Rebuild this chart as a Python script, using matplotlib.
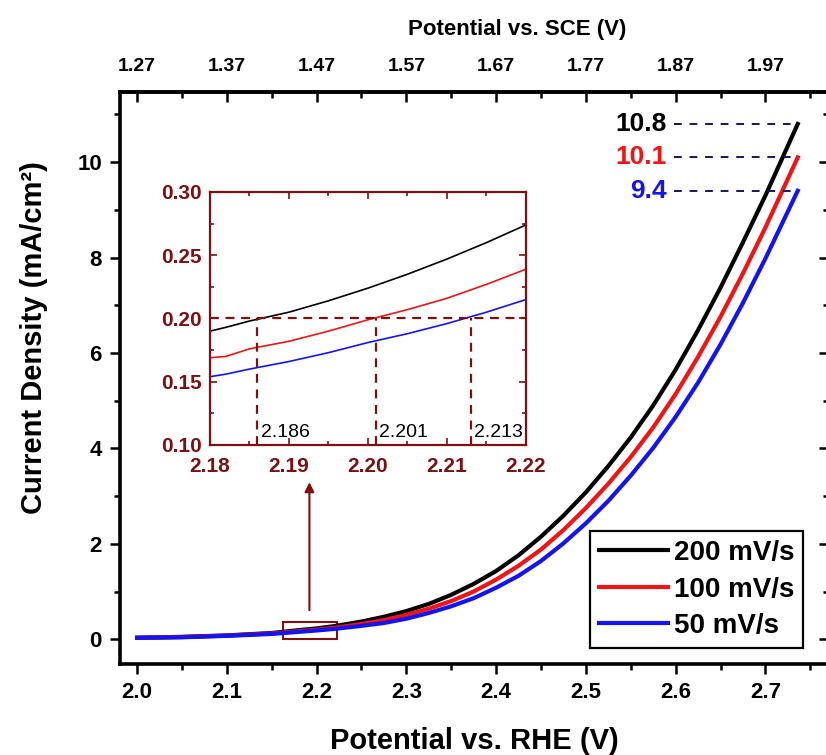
import matplotlib
matplotlib.use("Agg")
import matplotlib.pyplot as plt
from matplotlib.patches import Rectangle
from matplotlib.ticker import MultipleLocator, FixedLocator

plt.rcParams['font.family'] = ['Liberation Sans', 'DejaVu Sans']
plt.rcParams['font.weight'] = 'bold'

# LSV curves, potential vs RHE (V) and current density (mA/cm2)
potential = [2.00, 2.05, 2.10, 2.15, 2.18, 2.20, 2.22, 2.25, 2.275, 2.30, 2.325,
             2.35, 2.375, 2.40, 2.425, 2.45, 2.475, 2.50, 2.525, 2.55, 2.575,
             2.60, 2.625, 2.65, 2.675, 2.70, 2.736]
j_200 = [0.03, 0.05, 0.08, 0.13, 0.19, 0.226, 0.275, 0.37, 0.47, 0.59, 0.74,
         0.93, 1.16, 1.43, 1.76, 2.15, 2.59, 3.08, 3.63, 4.23, 4.90,
         5.65, 6.48, 7.37, 8.32, 9.30, 10.8]
j_100 = [0.03, 0.045, 0.075, 0.12, 0.169, 0.201, 0.24, 0.32, 0.40, 0.51, 0.64,
         0.80, 1.00, 1.25, 1.54, 1.88, 2.29, 2.75, 3.26, 3.82, 4.44,
         5.14, 5.92, 6.76, 7.67, 8.63, 10.1]
j_50 = [0.03, 0.04, 0.07, 0.11, 0.154, 0.183, 0.216, 0.28, 0.34, 0.43, 0.55,
        0.69, 0.86, 1.08, 1.33, 1.64, 2.01, 2.43, 2.90, 3.43, 4.01,
        4.66, 5.38, 6.18, 7.05, 7.98, 9.4]

# zoomed region near onset
zoom_potential = [2.180, 2.182, 2.185, 2.190, 2.195, 2.200, 2.205, 2.210, 2.215, 2.220]
zoom_200 = [0.190, 0.193, 0.198, 0.205, 0.214, 0.224, 0.235, 0.247, 0.260, 0.274]
zoom_100 = [0.169, 0.170, 0.176, 0.182, 0.190, 0.199, 0.207, 0.216, 0.227, 0.239]
zoom_50 = [0.154, 0.156, 0.160, 0.166, 0.173, 0.181, 0.188, 0.196, 0.205, 0.215]

onset_potential = [2.186, 2.201, 2.213]
onset_current = 0.2
end_current = [10.8, 10.1, 9.4]

labels = ['200 mV/s', '100 mV/s', '50 mV/s']
colors = ['black', '#f01414', '#1414f0']
dark_red = '#7d1010'
navy = '#14146e'
sce_offset = 0.73

fig = plt.figure(figsize=(8.26, 7.55), dpi=100)
ax = fig.add_axes([0.1453, 0.1205, 0.8585, 0.7576])

for y, lab, c in zip([j_200, j_100, j_50], labels, colors):
    ax.plot(potential, y, color=c, lw=3, label=lab)

ax.set_xlim(1.981, 2.771)
ax.set_ylim(-0.52, 11.47)
ax.xaxis.set_major_locator(FixedLocator([2.0, 2.1, 2.2, 2.3, 2.4, 2.5, 2.6, 2.7]))
ax.xaxis.set_minor_locator(MultipleLocator(0.05))
ax.yaxis.set_major_locator(MultipleLocator(2))
ax.yaxis.set_minor_locator(MultipleLocator(1))
ax.tick_params(which='major', direction='out', length=7, width=1.8, labelsize=16, pad=6)
ax.tick_params(which='minor', direction='out', length=4, width=1.8)
ax.set_xticklabels(['2.0', '2.1', '2.2', '2.3', '2.4', '2.5', '2.6', '2.7'])
for s in ax.spines.values():
    s.set_linewidth(2.6)

ax.set_xlabel('Potential vs. RHE (V)', fontsize=21, fontweight='bold', labelpad=17)
ax.set_ylabel('Current Density (mA/cm²)', fontsize=21, fontweight='bold')
ax.yaxis.set_label_coords(-0.102, 0.57)

# SCE scale on top
top = ax.secondary_xaxis('top', functions=(lambda x: x - sce_offset, lambda x: x + sce_offset))
top.xaxis.set_major_locator(FixedLocator([1.27, 1.37, 1.47, 1.57, 1.67, 1.77, 1.87, 1.97]))
top.xaxis.set_minor_locator(FixedLocator([1.32, 1.42, 1.52, 1.62, 1.72, 1.82, 1.92, 2.02]))
top.set_xticklabels(['1.27', '1.37', '1.47', '1.57', '1.67', '1.77', '1.87', '1.97'])
top.tick_params(which='major', direction='in', length=7, width=1.8, labelsize=14, pad=12)
top.tick_params(which='minor', direction='in', length=4, width=1.8)
top.spines['top'].set_linewidth(2.6)
fig.text(517 / 826, 1 - 29 / 755, 'Potential vs. SCE (V)', fontsize=16,
         fontweight='bold', ha='center', va='center')

right = ax.secondary_yaxis('right')
right.yaxis.set_major_locator(MultipleLocator(2))
right.yaxis.set_minor_locator(MultipleLocator(1))
right.tick_params(which='major', direction='in', length=7, width=1.8, labelright=False)
right.tick_params(which='minor', direction='in', length=4, width=1.8)
right.spines['right'].set_linewidth(2.6)

# end-point values
for v, c in zip(end_current, colors):
    ax.plot([2.598, potential[-1]], [v, v], color=navy, lw=1.4, dashes=(4, 4))
    ax.text(2.590, v, f'{v}', color=c, fontsize=19, fontweight='bold', ha='right', va='center')

leg = ax.legend(loc='lower right', bbox_to_anchor=(0.963, 0.028), borderaxespad=0,
                fontsize=20, handlelength=2.5, labelspacing=0.38, handletextpad=0.2,
                borderpad=0.32, fancybox=False, framealpha=1, edgecolor='black')
leg.get_frame().set_linewidth(1.6)
for line in leg.get_lines():
    line.set_linewidth(3)

# marker box and arrow to inset
ax.add_patch(Rectangle((2.163, -0.005), 0.06, 0.36, fill=False, edgecolor=dark_red, lw=1.5))
ax.annotate('', xy=(2.192, 3.35), xytext=(2.192, 0.55),
            arrowprops=dict(arrowstyle='-|>', color=dark_red, lw=1.5, mutation_scale=14))

# inset
ins = fig.add_axes([0.2542, 0.4106, 0.3826, 0.3351])
for y, c in zip([zoom_200, zoom_100, zoom_50], colors):
    ins.plot(zoom_potential, y, color=c, lw=1.2)
ins.set_xlim(2.18, 2.22)
ins.set_ylim(0.10, 0.30)
ins.plot([2.18, 2.22], [onset_current, onset_current], color=dark_red, lw=1.6, dashes=(4, 3))
for p in onset_potential:
    ins.plot([p, p], [0.10, onset_current], color=dark_red, lw=1.6, dashes=(4, 3))
    ins.text(p + 0.0004, 0.103, f'{p:.3f}', fontsize=14, fontweight='normal',
             color='black', ha='left', va='bottom')
ins.xaxis.set_major_locator(MultipleLocator(0.01))
ins.xaxis.set_minor_locator(MultipleLocator(0.005))
ins.yaxis.set_major_locator(MultipleLocator(0.05))
ins.yaxis.set_minor_locator(MultipleLocator(0.025))
ins.xaxis.set_major_formatter(plt.FuncFormatter(lambda v, _: f'{v:.2f}'))
ins.yaxis.set_major_formatter(plt.FuncFormatter(lambda v, _: f'{v:.2f}'))
ins.tick_params(which='both', direction='in', colors=dark_red, labelsize=15,
                right=True, top=True, width=1.2)
ins.tick_params(which='major', length=5, pad=6)
ins.tick_params(axis='x', which='major', pad=9)
ins.tick_params(which='minor', length=3)
for lab in ins.get_xticklabels() + ins.get_yticklabels():
    lab.set_fontweight('bold')
for s in ins.spines.values():
    s.set_color(dark_red)
    s.set_linewidth(1.6)

fig.savefig('out.png', dpi=100)
